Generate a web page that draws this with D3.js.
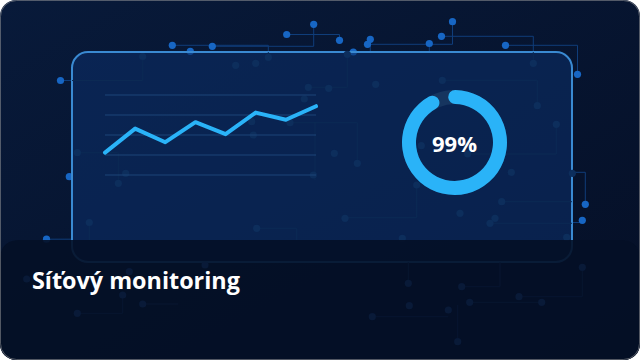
<!DOCTYPE html>
<html><head><meta charset="utf-8">
<script src="https://cdn.jsdelivr.net/npm/d3@7"></script>
<style>html,body{margin:0;padding:0;background:#ffffff;}svg{display:block;}</style>
</head><body>
<svg id="c" width="640" height="360"></svg>
<script>
// ---- data ----
const categories = ["1","2","3","4","5","6","7","8"];
const trafficValues = [28, 58, 41, 66, 51, 78, 69, 86];
const gridTicks = [0, 25, 50, 75, 100];
const gaugeValue = 99;
const gaugeLabel = "99%";
const gaugeSweep = [-0.022, 0.944]; // start / end of the drawn ring, in turns
const title = "Síťový monitoring";

// decorative circuit pattern
const brightDots = [[172.3,45.3],[212.3,46.3],[190.3,51.3],[313.7,24.3],[286.7,34.5],[339.5,40.3],[370.3,39.3],[367.5,44.3],[353.3,52],[429.3,43.5],[452.5,21.7],[441.5,36.3],[505.5,45.3],[577.5,74.3],[585.3,204.3],[582.3,220.3],[60.5,80.5],[69.3,176.7],[46.5,239.2]];
const brightLines = [
  [[172.3,45.3],[268.3,45.3],[268.3,52]],
  [[212.3,46.3],[313.7,46.3],[313.7,24.3]],
  [[286.7,34.5],[339.5,34.5],[339.5,40.3]],
  [[370.3,52],[370.3,44.3],[452.5,44.3],[452.5,21.7]],
  [[429.3,43.5],[429.3,52]],
  [[441.5,36.3],[533.3,36.3],[533.3,52]],
  [[505.5,45.3],[577.5,45.3],[577.5,74.3]],
  [[572,172.3],[585.3,172.3],[585.3,204.3]],
  [[572,222.5],[582.3,222.5]],
  [[60.5,80.5],[72,80.5]],
  [[46.5,239.2],[72,239.2]]
];
const faintDots = [[142.7,56.5],[235.7,65.3],[255.7,63.3],[268.3,57.3],[308.3,87.3],[304.3,99],[251.7,121.7],[253.3,135],[290,122.7],[77.3,152.7],[125.7,173.3],[313.3,175],[328.7,88.3],[347.3,54.3],[375.7,84.3],[442.3,80.3],[533.3,63.3],[537.3,105.7],[556.3,124.3],[421.3,145.7],[334.3,153.3],[357.3,163.3],[467.7,154],[511.3,172.3],[572.3,173.3],[416.7,185],[345,218.3],[501.7,201.7],[460,213.3],[495,218.3],[490,223.3],[402.3,238.3],[566.7,237.3],[89.3,222.5],[118.3,183.3],[256.7,228.3]];
const faintLines = [
  [[72,80.5],[142.7,80.5],[142.7,56.5]],
  [[268.3,52],[268.3,57.3]],
  [[533.3,52],[533.3,63.3]],
  [[290,122.7],[357.3,122.7],[357.3,163.3]],
  [[308.3,87.3],[347.3,87.3],[347.3,54.3]],
  [[315,121.7],[315,180]],
  [[77.3,152.7],[118.3,152.7],[118.3,183.3]],
  [[442.3,80.3],[537.3,80.3],[537.3,105.7]],
  [[467.7,154],[556.3,154],[556.3,124.3]],
  [[416.7,185],[416.7,217.7],[345,217.7]],
  [[501.7,201.7],[572,201.7]],
  [[490,223.3],[572,223.3]],
  [[256.7,228.3],[296.7,228.3],[296.7,240]],
  [[89.3,222.5],[89.3,240]]
];
const lowDots = [[408.3,283.3],[461.7,286.7],[582.3,267.3],[519,296.7],[409.3,305.7],[372.3,316.7],[448.3,310],[469.7,302.3],[541.7,302.3],[457.7,341.7],[129.3,271.7],[26.7,279],[122.7,295],[142.7,304],[77.3,313.3],[205,265]];
const lowLines = [
  [[408.3,262],[408.3,283.3]],
  [[461.7,286.7],[500,286.7],[500,262]],
  [[582.3,267.3],[582.3,296.7],[519,296.7]],
  [[372.3,316.7],[448.3,316.7]],
  [[469.7,302.3],[541.7,302.3]],
  [[457.7,341.7],[457.7,305]],
  [[142.7,304],[178.3,304]],
  [[77.3,313.3],[122.7,313.3],[122.7,295]]
];

// ---- drawing ----
const svg = d3.select("#c");
const W = 640, H = 360;
const defs = svg.append("defs");
const bgGrad = defs.append("linearGradient").attr("id","bg").attr("x1",0).attr("y1",0).attr("x2",1).attr("y2",1);
bgGrad.append("stop").attr("offset","0%").attr("stop-color","#081a3a");
bgGrad.append("stop").attr("offset","100%").attr("stop-color","#050f26");
defs.append("clipPath").attr("id","card").append("rect").attr("width",W).attr("height",H).attr("rx",16);

const g = svg.append("g").attr("clip-path","url(#card)");
g.append("rect").attr("width",W).attr("height",H).attr("fill","url(#bg)");

const line = d3.line();
function drawDecor(lines, dots, lineColor, dotColor, r){
  g.append("g").selectAll("path").data(lines).join("path")
    .attr("d", d => line(d)).attr("fill","none").attr("stroke",lineColor).attr("stroke-width",1);
  g.append("g").selectAll("circle").data(dots).join("circle")
    .attr("cx", d => d[0]).attr("cy", d => d[1]).attr("r", r).attr("fill", dotColor);
}
drawDecor(brightLines, brightDots, "#0f3d7a", "#1766c4", 3.6);

// panel
g.append("rect").attr("x",72).attr("y",52).attr("width",500).attr("height",210).attr("rx",16)
  .attr("fill","rgba(12,45,101,0.6)").attr("stroke","#3a8ad2").attr("stroke-width",2);

drawDecor(faintLines, faintDots, "#0c2a54", "#0d2e5c", 3.6);

// line chart
const x = d3.scalePoint().domain(categories).range([105, 316]);
const y = d3.scaleLinear().domain([0, 100]).range([175, 95]);
g.append("g").selectAll("line").data(gridTicks).join("line")
  .attr("x1", 105).attr("x2", 316).attr("y1", d => y(d)).attr("y2", d => y(d))
  .attr("stroke", "#1c4478").attr("stroke-width", 1);
g.append("path").datum(trafficValues)
  .attr("d", d3.line().x((d,i) => x(categories[i])).y(d => y(d)))
  .attr("fill","none").attr("stroke","#2ab3f8").attr("stroke-width",4)
  .attr("stroke-linejoin","round").attr("stroke-linecap","round");

// gauge
const gc = g.append("g").attr("transform","translate(454.5,142.5)");
const tau = 2 * Math.PI;
gc.append("path").attr("d", d3.arc()({innerRadius:38.5, outerRadius:52.5, startAngle:0, endAngle:tau}))
  .attr("fill","#16355f");
gc.append("path").attr("d", d3.arc().cornerRadius(7)({innerRadius:38.5, outerRadius:52.5,
    startAngle: gaugeSweep[0]*tau, endAngle: gaugeSweep[1]*tau}))
  .attr("fill","#2ab3f8").attr("data-value", gaugeValue);
gc.append("text").attr("text-anchor","middle").attr("y",9)
  .attr("font-family","'Open Sans', 'Noto Sans', sans-serif").attr("font-weight",700).attr("font-size",22)
  .attr("fill","#ffffff").text(gaugeLabel);

// bottom overlay
const oy = 240, orr = 20;
g.append("path")
  .attr("d", `M0,${oy+orr} Q0,${oy} ${orr},${oy} L${W-orr},${oy} Q${W},${oy} ${W},${oy+orr} L${W},${H} L0,${H} Z`)
  .attr("fill","rgba(4,15,38,0.9)");
drawDecor(lowLines, lowDots, "#081630", "#091a38", 3.6);

const t = g.append("text").attr("x",32).attr("y",289)
  .attr("font-family","'Open Sans', 'Noto Sans', sans-serif").attr("font-weight",700).attr("font-size",21)
  .attr("fill","#ffffff").text(title);
const tw = t.node().getComputedTextLength();
if (tw > 0) t.attr("font-size", 21 * 208 / tw);

// card edge
svg.append("rect").attr("x",0.5).attr("y",0.5).attr("width",W-1).attr("height",H-1).attr("rx",16)
  .attr("fill","none").attr("stroke","rgba(160,160,160,0.5)").attr("stroke-width",1);
</script>
</body></html>
